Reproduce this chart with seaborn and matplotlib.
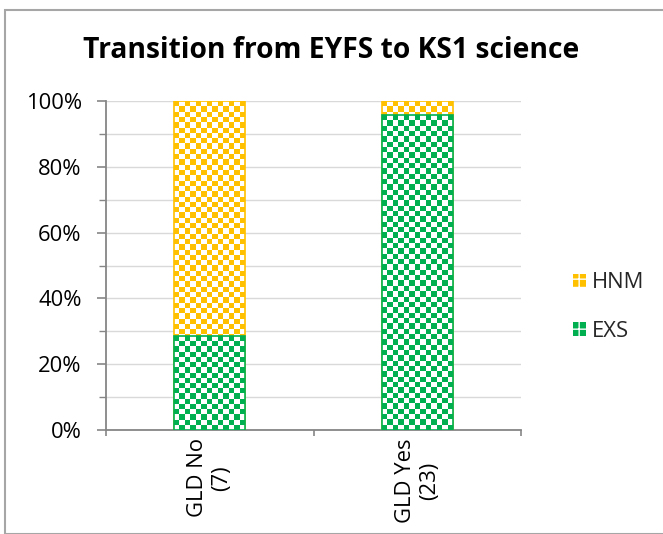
import numpy as np
import pandas as pd
import matplotlib
matplotlib.use("Agg")
import matplotlib.pyplot as plt
import seaborn as sns
from matplotlib.patches import Patch, Rectangle
from matplotlib.ticker import MultipleLocator, PercentFormatter, FixedLocator

# ---- data ----
categories = ["GLD No\n(7)", "GLD Yes\n(23)"]
exs = [28.57, 95.65]
hnm = [71.43, 4.35]
series = ["HNM", "EXS"]
colors = {"HNM": "#FFC000", "EXS": "#00B050"}
title = "Transition from EYFS to KS1 science"

sns.set_theme(style="white")
plt.rcParams["font.family"] = ["Open Sans", "DejaVu Sans"]

W, H = 663, 534
fig = plt.figure(figsize=(W / 100, H / 100), dpi=100)
ax = fig.add_axes([106 / W, 1 - 430 / H, (521 - 106) / W, (430 - 101) / H])

df = pd.DataFrame({"cat": categories, "EXS": exs, "HNM": hnm})
df["top"] = df["EXS"] + df["HNM"]

sns.barplot(data=df, x="cat", y="top", color=colors["HNM"], width=0.34,
            ax=ax, saturation=1, zorder=3)
n_top = len(ax.patches)
sns.barplot(data=df, x="cat", y="EXS", color=colors["EXS"], width=0.34,
            ax=ax, saturation=1, zorder=3)

ax.set_xlim(-0.5, len(categories) - 0.5)
ax.set_ylim(0, 100)
ax.set_autoscale_on(False)
fig.canvas.draw()
cell_px = 5.3


def checker_fill(patch, color, z):
    bb = patch.get_bbox()
    x0, y0, x1, y1 = bb.x0, bb.y0, bb.x1, bb.y1
    p0 = ax.transData.transform((x0, y0))
    p1 = ax.transData.transform((x1, y1))
    nx = max(1, int(round(abs(p1[0] - p0[0]) / cell_px)))
    ny = max(1, int(round(abs(p1[1] - p0[1]) / cell_px)))
    rgb = np.array(matplotlib.colors.to_rgb(color))
    yy, xx = np.mgrid[0:ny, 0:nx]
    mask = ((xx + yy) % 2 == 0)
    img = np.ones((ny, nx, 3))
    img[mask] = rgb
    im = ax.imshow(img, extent=(x0, x1, y0, y1), origin="upper",
                   interpolation="nearest", aspect="auto", zorder=z)
    im.set_clip_path(patch)
    patch.set_facecolor("none")
    patch.set_edgecolor(color)
    patch.set_linewidth(1.2)
    patch.set_zorder(z + 0.05)


for i, p in enumerate(ax.patches):
    if i < n_top:
        checker_fill(p, colors["HNM"], 3.5)
    else:
        checker_fill(p, colors["EXS"], 3.7)

ax.set_xlim(-0.5, len(categories) - 0.5)
ax.set_ylim(0, 100)
ax.yaxis.set_major_locator(MultipleLocator(20))
ax.yaxis.set_minor_locator(MultipleLocator(10))
ax.yaxis.set_major_formatter(PercentFormatter(decimals=0))
ax.grid(True, which="both", axis="y", color="#D9D9D9", linewidth=1, zorder=0)
ax.set_axisbelow(True)

for s in ["top", "right"]:
    ax.spines[s].set_visible(False)
for s in ["left", "bottom"]:
    ax.spines[s].set_color("#868686")
    ax.spines[s].set_linewidth(1.3)

ax.tick_params(axis="y", which="major", direction="out", length=6.5, width=1.2,
               color="#868686", labelsize=15.8, labelcolor="#000000", pad=11, left=True)
ax.tick_params(axis="y", which="minor", direction="out", length=5, width=1.0,
               color="#868686", left=True)

# x-axis: category boundary ticks, labels at centers
ax.set_xticks(np.arange(len(categories)))
ax.set_xticklabels(categories, rotation=90, fontsize=15.8, color="#000000",
                   ha="center", va="top", multialignment="center")
ax.xaxis.set_minor_locator(FixedLocator(np.arange(len(categories) + 1) - 0.5))
ax.tick_params(axis="x", which="major", length=0, pad=6)
ax.tick_params(axis="x", which="minor", direction="out", length=4.5, width=1.2,
               color="#868686", bottom=True)
ax.set_xlabel("")
ax.set_ylabel("")

fig.text(0.5, 1 - 50 / H, title, ha="center", va="center",
         fontsize=20.3, fontweight="bold", color="#000000")

handles = [Patch(facecolor=colors[s], edgecolor="white", hatch="++",
                 linewidth=0, label=s) for s in series]
leg = fig.legend(handles=handles, loc="center left",
                 bbox_to_anchor=(553 / W, 1 - 307 / H), frameon=False,
                 fontsize=15.8, handlelength=0.6, handleheight=0.6,
                 handletextpad=0.25, labelspacing=1.25)

border = Rectangle((4.5 / W, 0), 1, 1 - 9.5 / H, transform=fig.transFigure,
                   fill=False, edgecolor="#A6A6A6", linewidth=1.5, clip_on=False)
fig.patches.append(border)

fig.savefig("out.png", dpi=100, facecolor="white")
